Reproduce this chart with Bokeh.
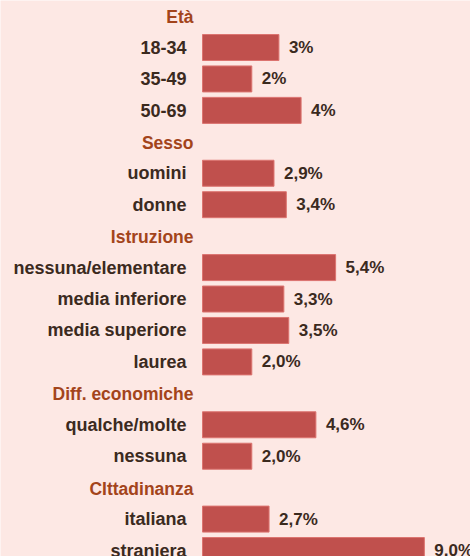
from bokeh.plotting import figure
from bokeh.models import ColumnDataSource, Range1d
from bokeh.core.properties import value
from bokeh.embed import file_html
from bokeh.resources import INLINE

# ---- data ----
groups = ["Età", "Sesso", "Istruzione", "Diff. economiche", "CIttadinanza"]
categories = [
    ["18-34", "35-49", "50-69"],
    ["uomini", "donne"],
    ["nessuna/elementare", "media inferiore", "media superiore", "laurea"],
    ["qualche/molte", "nessuna"],
    ["italiana", "straniera"],
]
values = [
    [3.1, 2.0, 4.0],
    [2.9, 3.4],
    [5.4, 3.3, 3.5, 2.0],
    [4.6, 2.0],
    [2.7, 9.0],
]
value_labels = [
    ["3%", "2%", "4%"],
    ["2,9%", "3,4%"],
    ["5,4%", "3,3%", "3,5%", "2,0%"],
    ["4,6%", "2,0%"],
    ["2,7%", "9,0%"],
]

# ---- build rows ----
head_y, head_txt = [], []
bar_y, bar_v, bar_cat, bar_lab = [], [], [], []
slot = 0
for g, cats, vals, labs in zip(groups, categories, values, value_labels):
    head_y.append(slot)
    head_txt.append(g)
    slot += 1
    for c, v, l in zip(cats, vals, labs):
        bar_y.append(slot)
        bar_v.append(v)
        bar_cat.append(c)
        bar_lab.append(l)
        slot += 1

bars = ColumnDataSource(dict(y=bar_y, v=bar_v, cat=bar_cat, lab=bar_lab,
                             zero=[0] * len(bar_y)))
heads = ColumnDataSource(dict(y=head_y, txt=head_txt, zero=[0] * len(head_y)))

W, H = 470, 556
px_per_unit = 24.65
x0_px = 202
slot_px = 31.44
top_px = 15.56

BG = "#FDE8E4"
BAR = "#C0504D"
TXT = "#3B2A1E"
HEAD = "#A3441B"
FONT = "Liberation Sans"

p = figure(width=W, height=H, output_backend="svg", toolbar_location=None,
           x_range=Range1d(-x0_px / px_per_unit, (W - x0_px) / px_per_unit),
           y_range=Range1d((H - top_px) / slot_px, -top_px / slot_px),
           min_border=0, background_fill_color=BG, border_fill_color=BG,
           outline_line_color=None)
p.axis.visible = False
p.grid.visible = False

p.hbar(y="y", left="zero", right="v", height=26 / slot_px, source=bars,
       fill_color=BAR, line_color="#DC7470", line_width=1)

p.text(x="zero", y="y", text="cat", source=bars, x_offset=-16, y_offset=0,
       text_align="right", text_baseline="middle", text_color=TXT,
       text_font=value(FONT), text_font_style="bold", text_font_size="18px")

p.text(x="v", y="y", text="lab", source=bars, x_offset=10, y_offset=0,
       text_align="left", text_baseline="middle", text_color=TXT,
       text_font=value(FONT), text_font_style="bold", text_font_size="17px")

p.text(x="zero", y="y", text="txt", source=heads, x_offset=-9, y_offset=1,
       text_align="right", text_baseline="middle", text_color=HEAD,
       text_font=value(FONT), text_font_style="bold", text_font_size="17.5px")

open("out.html", "w").write(file_html(p, INLINE))
